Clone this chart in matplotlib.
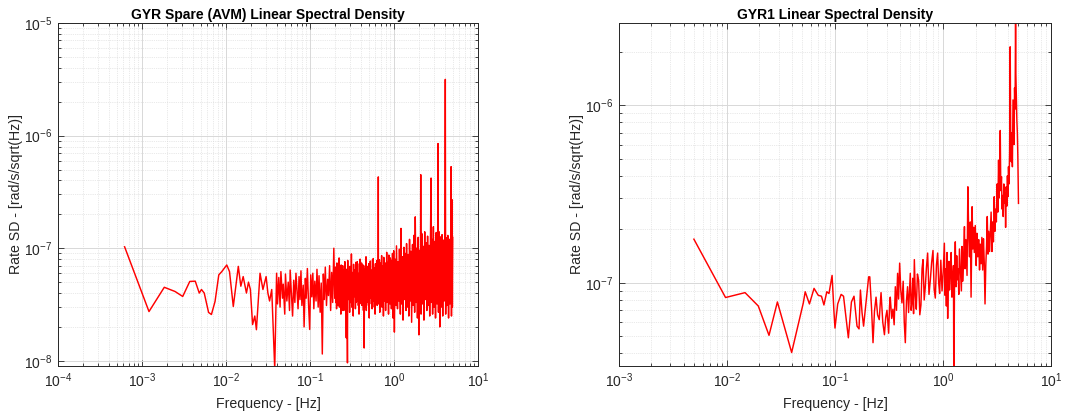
# Linear spectral density of two gyros (MATLAB-style log-log panels)
import numpy as np
import matplotlib
matplotlib.use("Agg")
import matplotlib.pyplot as plt

# ---- GYR Spare (AVM): values, rad/s/sqrt(Hz) in units of 1e-8 ----
spare_freq = [
    # low-frequency sweep
    6.2e-4, 1.21e-3, 1.84e-3, 2.47e-3, 3.05e-3, 3.7e-3, 4.3e-3, 4.8e-3, 5.1e-3, 5.5e-3,
    6.2e-3, 6.7e-3, 7.4e-3, 8.2e-3, 8.9e-3, 1.02e-2, 1.1e-2, 1.22e-2, 1.4e-2, 1.5e-2,
    1.6e-2, 1.75e-2, 1.85e-2, 1.95e-2, 2.07e-2, 2.2e-2, 2.3e-2, 2.54e-2, 2.75e-2, 3.0e-2,
    3.15e-2, 3.3e-2, 3.5e-2, 3.8e-2, 4.0e-2,
    # 0.04 - 0.2 Hz
    0.041, 0.0425, 0.044, 0.045, 0.047, 0.048, 0.050, 0.051, 0.053, 0.055,
    0.057, 0.058, 0.060, 0.062, 0.064, 0.066, 0.068, 0.070, 0.072, 0.074,
    0.076, 0.078, 0.080, 0.083, 0.085, 0.088, 0.090, 0.093, 0.096, 0.099,
    0.102, 0.105, 0.108, 0.111, 0.114, 0.118, 0.121, 0.125, 0.128, 0.132,
    0.136, 0.140, 0.144, 0.148, 0.152, 0.157, 0.162, 0.166, 0.171, 0.176,
    0.181, 0.186, 0.192, 0.197,
    # 0.2 - 1 Hz
    0.201, 0.203, 0.205, 0.207, 0.209, 0.211, 0.213, 0.215, 0.217, 0.220,
    0.222, 0.224, 0.226, 0.228, 0.231, 0.233, 0.235, 0.238, 0.240, 0.242,
    0.245, 0.247, 0.250, 0.252, 0.255, 0.257, 0.260, 0.262, 0.265, 0.268,
    0.270, 0.273, 0.276, 0.279, 0.281, 0.284, 0.287, 0.290, 0.293, 0.296,
    0.299, 0.302, 0.305, 0.308, 0.311, 0.314, 0.317, 0.320, 0.324, 0.327,
    0.330, 0.333, 0.337, 0.340, 0.344, 0.347, 0.351, 0.354, 0.358, 0.361,
    0.365, 0.368, 0.372, 0.376, 0.380, 0.383, 0.387, 0.391, 0.395, 0.399,
    0.403, 0.407, 0.411, 0.415, 0.420, 0.424, 0.428, 0.432, 0.437, 0.441,
    0.446, 0.450, 0.455, 0.459, 0.464, 0.468, 0.473, 0.478, 0.482, 0.487,
    0.492, 0.497, 0.502, 0.507, 0.512, 0.517, 0.522, 0.528, 0.533, 0.538,
    0.544, 0.549, 0.555, 0.560, 0.566, 0.571, 0.577, 0.583, 0.589, 0.595,
    0.601, 0.607, 0.613, 0.619, 0.625, 0.631, 0.638, 0.644, 0.648, 0.650,
    0.652, 0.657, 0.664, 0.670, 0.677, 0.684, 0.691, 0.698, 0.705, 0.712,
    0.719, 0.726, 0.733, 0.741, 0.748, 0.755, 0.763, 0.771, 0.778, 0.786,
    0.794, 0.802, 0.810, 0.818, 0.826, 0.834, 0.843, 0.851, 0.860, 0.868,
    0.877, 0.886, 0.895, 0.904, 0.913, 0.922, 0.931, 0.940, 0.950, 0.959,
    # 1 - 5 Hz
    0.972, 0.992, 1.01, 1.03, 1.05, 1.07, 1.10, 1.12, 1.14, 1.16,
    1.19, 1.21, 1.23, 1.26, 1.28, 1.31, 1.33, 1.36, 1.39, 1.41,
    1.44, 1.47, 1.50, 1.53, 1.56, 1.59, 1.62, 1.66, 1.69, 1.72,
    1.76, 1.79, 1.83, 1.86, 1.90, 1.94, 1.98, 2.02, 2.06, 2.08,
    2.10, 2.14, 2.18, 2.23, 2.27, 2.32, 2.36, 2.41, 2.46, 2.51,
    2.56, 2.61, 2.66, 2.72, 2.76, 2.77, 2.83, 2.88, 2.94, 3.00,
    3.06, 3.12, 3.18, 3.25, 3.31, 3.34, 3.38, 3.44, 3.51, 3.58,
    3.66, 3.73, 3.80, 3.88, 3.96, 4.04, 4.08, 4.12, 4.20, 4.28,
    4.37, 4.46, 4.55, 4.64, 4.73, 4.78, 4.83, 4.90, 4.95, 5.00,
]
spare_lsd = [
    10.3, 2.74, 4.5, 4.13, 3.73, 5.07, 5.1, 4.0, 4.3, 4.0,
    2.69, 2.58, 3.37, 5.8, 6.2, 7.1, 6.2, 3.04, 6.9, 4.6,
    5.6, 4.0, 5.0, 4.3, 2.1, 2.5, 1.89, 6.0, 4.3, 5.6,
    4.0, 3.4, 4.3, 0.85, 6.0,
    3.2, 5.5, 3.0, 6.2, 3.6, 4.8, 2.6, 5.9, 3.4, 5.0,
    2.8, 6.4, 3.9, 2.5, 5.2, 3.3, 6.0, 4.1, 2.9, 5.6,
    3.5, 6.3, 3.1, 4.7, 2.0, 5.4, 3.6, 6.6, 3.2, 1.9,
    5.8, 3.7, 6.0, 2.9, 5.1, 3.4, 6.5, 3.0, 5.7, 2.7,
    4.9, 1.15, 5.9, 3.5, 6.8, 3.1, 5.3, 3.8, 7.0, 2.8,
    6.1, 3.3, 10.0, 3.6,
    6.8, 3.3, 5.9, 2.9, 7.4, 3.6, 6.2, 3.1, 5.6, 3.8,
    8.2, 3.0, 6.5, 3.4, 5.8, 2.6, 7.1, 3.5, 6.1, 3.2,
    7.0, 2.8, 6.4, 3.7, 5.9, 3.1, 7.6, 2.8, 6.0, 3.4,
    1.6, 6.5, 3.2, 0.96, 7.8, 3.5, 6.2, 4.0, 5.7, 2.7,
    6.9, 3.3, 6.3, 3.6, 8.9, 3.0, 6.1, 3.4, 5.4, 2.5,
    7.2, 3.7, 6.4, 3.9, 6.0, 2.9, 7.5, 3.3, 6.6, 3.6,
    7.6, 3.4, 6.0, 3.1, 5.8, 2.6, 7.3, 3.5, 8.0, 3.7,
    6.6, 3.2, 7.4, 3.1, 6.1, 3.6, 7.1, 2.8, 6.5, 1.3,
    6.2, 3.5, 7.0, 3.0, 8.4, 2.8, 6.7, 3.6, 6.9, 3.3,
    5.8, 3.1, 7.3, 2.4, 6.6, 3.7, 7.7, 3.6, 6.2, 3.2,
    6.4, 2.9, 7.9, 3.5, 8.1, 3.4, 6.3, 3.0, 6.7, 2.6,
    7.3, 3.5, 6.4, 3.8, 7.8, 3.1, 6.9, 3.4, 9.0, 43.0,
    3.2, 6.8, 3.5, 7.9, 2.7, 6.5, 3.8, 7.4, 3.5, 8.6,
    3.0, 7.0, 3.6, 6.6, 2.5, 8.3, 3.4, 7.2, 3.6, 7.4,
    2.8, 6.9, 3.5, 9.2, 3.3, 6.8, 3.7, 7.5, 2.6, 8.7,
    3.9, 7.1, 3.2, 8.2, 3.5, 6.9, 2.9, 7.8, 3.4, 9.0,
    2.4, 9.5, 1.8, 8.0, 3.1, 10.5, 2.9, 7.6, 3.4, 9.8,
    2.6, 15.0, 3.2, 8.4, 2.3, 10.2, 3.5, 9.0, 2.8, 11.0,
    3.0, 8.8, 2.5, 12.0, 3.4, 9.4, 2.2, 10.8, 3.1, 13.0,
    2.7, 19.0, 3.3, 10.0, 2.4, 12.5, 1.7, 9.6, 3.0, 45.0,
    2.6, 13.5, 3.2, 10.4, 2.3, 14.0, 3.5, 11.2, 2.8, 12.8,
    3.1, 10.6, 2.5, 14.5, 42.0, 3.3, 12.0, 2.6, 15.5, 3.0,
    11.5, 2.4, 13.8, 3.2, 12.2, 85.0, 2.7, 14.0, 2.0, 12.6,
    3.0, 13.2, 2.5, 11.8, 3.4, 14.5, 316.0, 2.6, 12.4, 3.1,
    13.0, 2.4, 12.0, 3.2, 11.5, 53.0, 2.5, 27.0, 3.0, 12.5,
]

# ---- GYR1: values, units of 1e-8 ----
gyr1_freq = [
    0.00494, 0.0097, 0.0147, 0.0195, 0.0245, 0.0293, 0.0397, 0.0509, 0.053, 0.058,
    0.064, 0.070, 0.075, 0.079, 0.084, 0.088, 0.094, 0.098, 0.100, 0.106,
    0.114, 0.120, 0.133, 0.142, 0.150, 0.160, 0.167,
    0.172, 0.178, 0.184, 0.195, 0.205, 0.210, 0.218, 0.225, 0.232, 0.240,
    0.248, 0.257, 0.262, 0.267, 0.277, 0.287, 0.295, 0.303, 0.308, 0.314,
    0.320, 0.325, 0.335, 0.344, 0.353, 0.362, 0.371, 0.380, 0.388, 0.397,
    0.407, 0.417, 0.428, 0.438, 0.448, 0.459, 0.470, 0.480, 0.490, 0.498,
    0.507, 0.516, 0.525, 0.534, 0.543, 0.555, 0.566, 0.580, 0.595, 0.610,
    0.625, 0.640, 0.653, 0.670, 0.686, 0.703, 0.721, 0.742, 0.763, 0.785,
    0.808, 0.828, 0.849, 0.870, 0.892, 0.912, 0.931, 0.955, 0.980, 1.005,
    1.030, 1.045, 1.060, 1.075, 1.090, 1.105, 1.120, 1.135, 1.150, 1.170,
    1.190, 1.210, 1.230, 1.250, 1.260, 1.280, 1.300, 1.320, 1.340, 1.360,
    1.380, 1.400, 1.420, 1.450, 1.480, 1.500, 1.520, 1.550, 1.580, 1.600,
    1.630, 1.670, 1.700, 1.730, 1.760, 1.790, 1.820, 1.860, 1.890, 1.920,
    1.950, 1.990, 2.030, 2.060, 2.100, 2.140, 2.180, 2.210, 2.250, 2.290,
    2.330, 2.370, 2.410, 2.450, 2.490, 2.530, 2.570, 2.610, 2.650, 2.700,
    2.740, 2.790, 2.840, 2.880, 2.930, 2.980, 3.030, 3.080, 3.120, 3.170,
    3.220, 3.270, 3.310, 3.350, 3.390, 3.430, 3.480, 3.520, 3.570, 3.610,
    3.660, 3.710, 3.760, 3.800, 3.850, 3.900, 3.950, 3.990, 4.040, 4.090,
    4.140, 4.190, 4.240, 4.290, 4.340, 4.390, 4.450, 4.500, 4.550, 4.600,
    4.650, 4.700, 4.730, 4.780, 4.830, 4.880, 4.930, 5.000,
]
gyr1_lsd = [
    17.6, 8.26, 8.8, 7.4, 5.06, 7.8, 4.05, 7.7, 8.9, 7.6,
    9.3, 8.5, 8.4, 7.5, 8.9, 8.7, 11.0, 6.76, 5.56, 7.6,
    8.6, 8.4, 4.9, 7.8, 8.4, 5.7, 5.5,
    9.1, 6.8, 5.7, 8.0, 10.8, 10.8, 7.2, 4.6, 6.9, 8.3,
    6.6, 6.2, 7.5, 8.8, 6.0, 5.1, 6.4, 7.0, 6.1, 5.2,
    7.4, 8.3, 6.3, 7.1, 5.8, 9.5, 7.0, 11.3, 8.1, 12.9,
    9.0, 7.7, 10.2, 6.0, 4.6, 7.9, 9.5, 6.8, 8.9, 11.3,
    7.0, 7.7, 10.6, 6.7, 13.5, 8.4, 7.1, 11.2, 10.3, 6.6,
    7.5, 12.0, 13.5, 8.0, 9.5, 12.2, 14.7, 8.6, 10.3, 13.0,
    15.2, 9.2, 8.2, 12.6, 14.7, 10.0, 8.7, 13.4, 9.0, 11.5,
    16.7, 8.5, 12.0, 7.4, 14.8, 6.3, 10.5, 13.2, 9.1, 11.3,
    14.8, 8.3, 10.0, 12.5, 2.5, 11.0, 17.0, 9.5, 14.2, 10.4,
    12.0, 8.6, 15.5, 11.8, 9.0, 16.0, 10.2, 13.5, 20.7, 12.0,
    17.5, 11.0, 34.7, 19.0, 14.0, 22.0, 8.3, 26.8, 15.5, 20.5,
    14.8, 21.0, 12.5, 19.0, 14.0, 17.5, 11.8, 16.5, 12.8, 18.0,
    11.8, 17.7, 13.0, 7.6, 12.5, 16.0, 23.6, 14.5, 19.5, 15.0,
    19.0, 25.0, 15.0, 22.0, 17.0, 30.5, 19.5, 26.0, 22.0, 36.0,
    25.0, 49.0, 30.0, 41.0, 72.0, 33.0, 39.5, 26.0, 31.0, 23.6,
    36.0, 28.0, 32.0, 20.5, 34.7, 27.0, 40.0, 30.5, 45.0, 36.0,
    55.0, 213.0, 62.0, 48.0, 70.0, 45.0, 107.0, 82.0, 60.0, 125.0,
    95.0, 320.0, 150.0, 110.0, 82.0, 70.0, 52.0, 28.0,
]

PANELS = [
    dict(title="GYR Spare (AVM) Linear Spectral Density", f=spare_freq, v=spare_lsd,
         xlim=(1e-4, 10), ylim=(9e-9, 1e-5), pos=[0.0544, 0.1265, 0.3936, 0.8186]),
    dict(title="GYR1 Linear Spectral Density", f=gyr1_freq, v=gyr1_lsd,
         xlim=(1e-3, 10), ylim=(3.4e-8, 2.9e-6), pos=[0.5801, 0.1265, 0.4049, 0.8186]),
]

TXT = "#262626"
plt.rcParams.update({"font.family": ["Liberation Sans", "DejaVu Sans"],
                     "mathtext.fontset": "custom", "mathtext.rm": "Liberation Sans",
                     "axes.edgecolor": TXT, "xtick.color": TXT, "ytick.color": TXT})

fig = plt.figure(figsize=(10.67, 4.19), dpi=100)
for p in PANELS:
    ax = fig.add_axes(p["pos"])
    ax.plot(p["f"], np.array(p["v"]) * 1e-8, color="#ff0000", lw=1.05)
    ax.set_xscale("log"); ax.set_yscale("log")
    ax.set_xlim(*p["xlim"]); ax.set_ylim(*p["ylim"])
    ax.set_title(p["title"], fontsize=10, fontweight="bold", color="black", pad=3)
    ax.set_xlabel("Frequency - [Hz]", fontsize=10.2, color=TXT, labelpad=5)
    ax.set_ylabel("Rate SD - [rad/s/sqrt(Hz)]", fontsize=10.2, color=TXT, labelpad=1)
    ax.xaxis.set_major_locator(matplotlib.ticker.LogLocator(base=10, numticks=12))
    ax.xaxis.set_minor_locator(matplotlib.ticker.LogLocator(base=10, subs=np.arange(2, 10), numticks=12))
    ax.yaxis.set_minor_locator(matplotlib.ticker.LogLocator(base=10, subs=np.arange(2, 10), numticks=12))
    ax.xaxis.set_minor_formatter(matplotlib.ticker.NullFormatter())
    ax.yaxis.set_minor_formatter(matplotlib.ticker.NullFormatter())
    ax.grid(which="major", color="#d8d8d8", lw=0.7, ls="-")
    ax.grid(which="minor", color="#d4d4d4", lw=0.5, ls=":")
    ax.set_axisbelow(True)
    ax.tick_params(which="both", direction="in", top=True, right=True, labelsize=10, width=0.6)
    ax.tick_params(which="major", length=4, pad=4)
    ax.tick_params(which="minor", length=2)
    for s in ax.spines.values():
        s.set_linewidth(0.7)

fig.savefig("out.png", dpi=100)
